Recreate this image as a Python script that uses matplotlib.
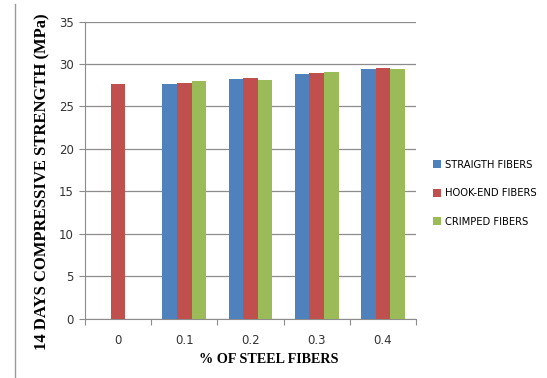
import matplotlib.pyplot as plt
import numpy as np
from matplotlib.lines import Line2D

# % of steel fibres and 14 day compressive strength (MPa)
categories = ["0", "0.1", "0.2", "0.3", "0.4"]
straight = [0, 27.6, 28.25, 28.8, 29.35]
hook_end = [27.6, 27.75, 28.4, 28.95, 29.5]
crimped = [0, 28.0, 28.1, 29.05, 29.35]

series = [
    ("STRAIGTH FIBERS", straight, "#4F81BD"),
    ("HOOK-END FIBERS", hook_end, "#C0504D"),
    ("CRIMPED FIBERS", crimped, "#9BBB59"),
]

sans = ["DejaVu Sans"]
serif = ["Liberation Serif", "DejaVu Serif"]

fig = plt.figure(figsize=(5.47, 3.78), dpi=100)
ax = fig.add_axes([0.1554, 0.1574, 0.6051, 0.7857])

x = np.arange(len(categories))
w = 0.22
for i, (name, vals, col) in enumerate(series):
    ax.bar(x + (i - 1) * w, vals, width=w, color=col, label=name, zorder=3)

ax.set_xlim(-0.5, len(categories) - 0.5)
ax.set_ylim(0, 35)
ax.set_yticks(range(0, 36, 5))
ax.yaxis.grid(True, color="#8c8c8c", linewidth=0.9, zorder=0)

# category ticks sit between the groups
ax.set_xticks(np.arange(-0.5, len(categories), 1.0))
ax.set_xticklabels([])
ax.set_xticks(x, minor=True)
ax.set_xticklabels(categories, minor=True, family=sans, fontsize=8.5, color="#333333")
ax.tick_params(axis="x", which="minor", length=0, pad=11)
ax.tick_params(axis="x", which="major", length=4, color="#8c8c8c", direction="out")
ax.tick_params(axis="y", length=4, color="#8c8c8c", labelsize=8.5, labelcolor="#333333", pad=4)
for lab in ax.get_yticklabels():
    lab.set_family(sans)

for side in ["top", "right"]:
    ax.spines[side].set_visible(False)
for side in ["left", "bottom"]:
    ax.spines[side].set_color("#8c8c8c")

ax.set_ylabel("14 DAYS COMPRESSIVE STRENGTH (MPa)", family=serif, fontweight="bold",
              fontsize=12)
ax.yaxis.set_label_coords(-0.106, 0.46)
ax.set_xlabel("% OF STEEL FIBERS", family=serif, fontweight="bold", fontsize=10.2)
ax.xaxis.set_label_coords(0.555, -0.117)

fig.legend(loc="center left", bbox_to_anchor=(0.783, 0.489), frameon=False,
           prop={"family": sans, "size": 7.2}, handlelength=0.8, handleheight=0.8,
           handletextpad=0.35, labelspacing=1.85, borderpad=0)

# thin border line on the left edge
fig.add_artist(Line2D([0.027, 0.027], [0.0, 0.99], transform=fig.transFigure,
                      color="#9a9a9a", linewidth=1))

fig.savefig("out.png", dpi=100)
